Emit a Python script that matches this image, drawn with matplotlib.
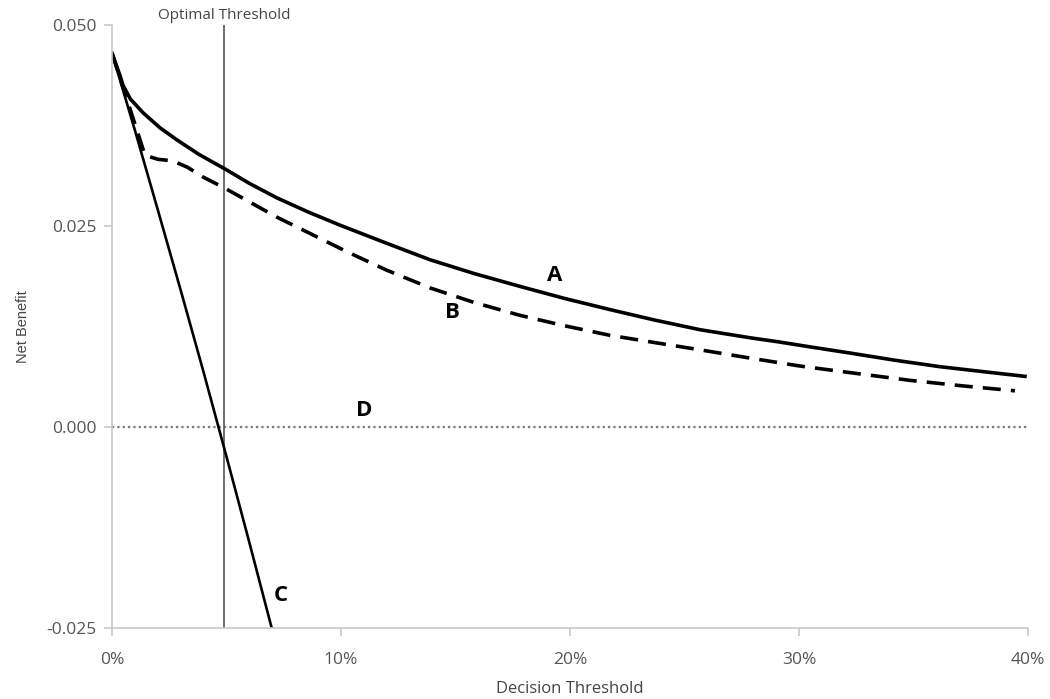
import matplotlib.pyplot as plt
from matplotlib.ticker import FuncFormatter

plt.rcParams['font.family'] = ['Open Sans', 'DejaVu Sans']

# model A (solid)
a_x = [0.0, 0.0035, 0.0048, 0.008, 0.0135, 0.021, 0.0284, 0.038, 0.0493, 0.060, 0.072, 0.086,
       0.0996, 0.1195, 0.1389, 0.158, 0.178, 0.1975, 0.2175, 0.237, 0.2568, 0.2786, 0.2908,
       0.3063, 0.3223, 0.3420, 0.3616, 0.380, 0.3987]
a_y = [0.0465, 0.0437, 0.0425, 0.0408, 0.0391, 0.0372, 0.0357, 0.0339, 0.0321, 0.0303, 0.0285, 0.0267,
       0.0251, 0.0229, 0.0208, 0.0191, 0.0175, 0.0160, 0.0146, 0.0133, 0.0121, 0.0111, 0.0106,
       0.0099, 0.0092, 0.0083, 0.0075, 0.0069, 0.0063]

# model B (dashed)
b_x = [0.0, 0.0144, 0.020, 0.0266, 0.033, 0.0397, 0.0493, 0.060, 0.072, 0.087, 0.1026, 0.120,
       0.1389, 0.158, 0.178, 0.1975, 0.2175, 0.237, 0.2568, 0.278, 0.300, 0.324, 0.3485,
       0.372, 0.3943]
b_y = [0.0465, 0.0338, 0.0333, 0.0331, 0.0323, 0.0311, 0.0297, 0.0280, 0.0261, 0.0240, 0.0218, 0.0195,
       0.0173, 0.0155, 0.0139, 0.0126, 0.0114, 0.0105, 0.0096, 0.0086, 0.0076, 0.0067, 0.0058,
       0.0051, 0.0045]

# treat all (C)
c_x = [0.0, 0.01, 0.02, 0.03, 0.04, 0.05, 0.06, 0.07]
c_y = [0.0465, 0.0369, 0.0270, 0.0170, 0.0068, -0.0037, -0.0144, -0.0253]

# treat none (D)
d_x = [0.0, 0.40]
d_y = [0.0, 0.0]

optimal = 0.049

labels = ['A', 'B', 'C', 'D']
label_x = [0.1935, 0.1485, 0.0738, 0.110]
label_y = [0.0189, 0.0143, -0.0210, 0.0020]

fig = plt.figure(figsize=(10.5, 6.99), dpi=100)
ax = fig.add_axes([0.1067, 0.1016, 0.8723, 0.8626])

ax.plot(d_x, d_y, color='#777777', lw=1.6, linestyle=(0, (1, 1.4)))
ax.axvline(optimal, color='#555555', lw=1.2)
ax.plot(c_x, c_y, color='black', lw=1.9, solid_capstyle='butt')
ax.plot(b_x, b_y, color='black', lw=2.6, linestyle=(0, (5, 2.8)), dash_capstyle='butt')
ax.plot(a_x, a_y, color='black', lw=2.6, solid_joinstyle='round')

for t, x, y in zip(labels, label_x, label_y):
    ax.text(x, y, t, fontsize=16, fontweight='bold', ha='center', va='center')

ax.text(optimal, 0.0503, 'Optimal Threshold', fontsize=11, color='#444444',
        ha='center', va='bottom')

ax.set_xlim(0, 0.40)
ax.set_ylim(-0.025, 0.050)
ax.set_xticks([0, 0.1, 0.2, 0.3, 0.4])
ax.set_yticks([-0.025, 0, 0.025, 0.05])
ax.xaxis.set_major_formatter(FuncFormatter(lambda v, p: '%d%%' % round(v * 100)))
ax.yaxis.set_major_formatter(FuncFormatter(lambda v, p: '%.3f' % v))

for s in ['top', 'right']:
    ax.spines[s].set_visible(False)
for s in ['left', 'bottom']:
    ax.spines[s].set_color('#c8c8c8')
    ax.spines[s].set_linewidth(1.2)

ax.tick_params(axis='both', colors='#c8c8c8', labelcolor='#555555', labelsize=12.5,
               length=6, width=1.2)
ax.tick_params(axis='x', pad=11)
ax.tick_params(axis='y', pad=5)

ax.set_xlabel('Decision Threshold', fontsize=12, color='#444444', labelpad=10)
ax.set_ylabel('Net Benefit', fontsize=10.5, color='#444444',
              family=['Liberation Sans', 'DejaVu Sans'], labelpad=12)

fig.savefig('out.png', dpi=100)
